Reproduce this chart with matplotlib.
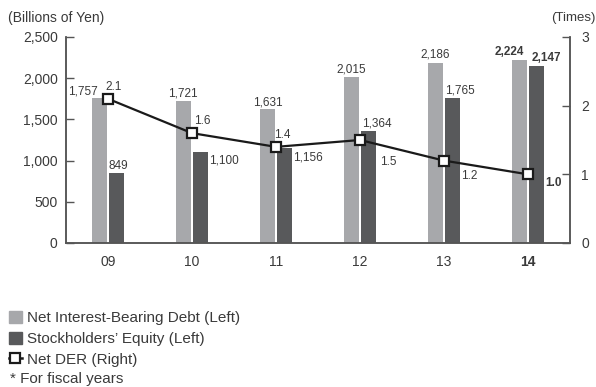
import numpy as np
import matplotlib
matplotlib.use("Agg")
import matplotlib.pyplot as plt
from matplotlib.patches import Patch
from matplotlib.lines import Line2D

plt.rcParams['font.family'] = ['Liberation Sans', 'DejaVu Sans']

years = ['09', '10', '11', '12', '13', '14']
net_debt = [1757, 1721, 1631, 2015, 2186, 2224]
equity = [849, 1100, 1156, 1364, 1765, 2147]
net_der = [2.1, 1.6, 1.4, 1.5, 1.2, 1.0]

# label offsets in pixels (dx, dy, ha) for each series
debt_off = [(-17, 7, 'center'), (-1, 8, 'center'), (0, 6, 'center'),
            (0, 7, 'center'), (0, 8, 'center'), (-10, 8, 'center')]
eq_off = [(2, 7, 'center'), (9, -8, 'left'), (9, -10, 'left'),
          (-6, 7, 'left'), (-7, 7, 'left'), (10, 8, 'center')]
der_off = [(6, 12, 'center'), (10, 12, 'center'), (6, 12, 'center'),
           (28, -22, 'center'), (25, -15, 'center'), (26, -9, 'center')]

c_debt = '#a7a8ab'
c_eq = '#58595b'
c_txt = '#3a3a3a'
c_axis = '#555555'

fig = plt.figure(figsize=(5.96, 3.87), dpi=100)
ax = fig.add_axes([66/596, 1-243/387, (570-66)/596, (243-37)/387])
ax2 = ax.twinx()

x = np.arange(len(years))
w = 0.17
ax.bar(x - 0.1, net_debt, w, color=c_debt, zorder=2)
ax.bar(x + 0.1, equity, w, color=c_eq, zorder=2)

ax.set_xlim(-0.5, len(years) - 0.5)
ax.set_ylim(0, 2500)
ax.set_yticks(np.arange(0, 2501, 500))
ax.set_yticklabels([f'{v:,}' for v in range(0, 2501, 500)])
ax.set_xticks(x)
ax.set_xticklabels(years)
ax.tick_params(axis='x', length=0, pad=9, labelsize=10, colors=c_txt)
ax.tick_params(axis='y', direction='in', length=6, width=1, pad=6,
               labelsize=10, colors=c_axis, labelcolor=c_txt)
ax.get_xticklabels()[-1].set_fontweight('bold')

ax2.plot(x, net_der, color='#1a1a1a', lw=1.6, marker='s', ms=7,
         mfc='white', mec='#1a1a1a', mew=1.6, zorder=5)
ax2.set_ylim(0, 3)
ax2.set_yticks([0, 1, 2, 3])
ax2.tick_params(axis='y', direction='in', length=6, width=1, pad=8,
                labelsize=10, colors=c_axis, labelcolor=c_txt)

for a in (ax, ax2):
    a.spines['top'].set_visible(False)
    for s in ('left', 'right', 'bottom'):
        a.spines[s].set_color(c_axis)
        a.spines[s].set_linewidth(1.1)

last = len(years) - 1
for i in x:
    fw = 'bold' if i == last else 'normal'
    dx, dy, ha = debt_off[i]
    ax.annotate(f'{net_debt[i]:,}', (i - 0.1, net_debt[i]), xytext=(dx, dy),
                textcoords='offset pixels', ha=ha, va='center', fontsize=8.5,
                color=c_txt, fontweight=fw)
    dx, dy, ha = eq_off[i]
    ax.annotate(f'{equity[i]:,}', (i + 0.1, equity[i]), xytext=(dx, dy),
                textcoords='offset pixels', ha=ha, va='center', fontsize=8.5,
                color=c_txt, fontweight=fw)
    dx, dy, ha = der_off[i]
    ax2.annotate(f'{net_der[i]:.1f}', (i, net_der[i]), xytext=(dx, dy),
                 textcoords='offset pixels', ha=ha, va='center', fontsize=8.5,
                 color=c_txt, fontweight=fw)

fig.text(8/596, 1-18/387, '(Billions of Yen)', fontsize=10, color=c_txt,
         ha='left', va='center')
fig.text(595/596, 1-18/387, '(Times)', fontsize=9.5, color=c_txt,
         ha='right', va='center')

handles = [Patch(color=c_debt), Patch(color=c_eq),
           Line2D([], [], color='#1a1a1a', lw=1.8, marker='s', ms=6.5,
                  mfc='white', mec='#1a1a1a', mew=1.6)]
labels = ['Net Interest-Bearing Debt (Left)', "Stockholders\u2019 Equity (Left)",
          'Net DER (Right)']
fig.legend(handles, labels, loc='upper left', bbox_to_anchor=(9/596, 1-311/387),
           frameon=False, fontsize=11, handlelength=0.85, handleheight=0.85,
           handletextpad=0.3, labelspacing=0.42, borderpad=0, borderaxespad=0,
           labelcolor=c_txt)
fig.text(10/596, 1-379/387, '* For fiscal years', fontsize=11, color=c_txt,
         ha='left', va='center')

fig.savefig('out.png', dpi=100)
